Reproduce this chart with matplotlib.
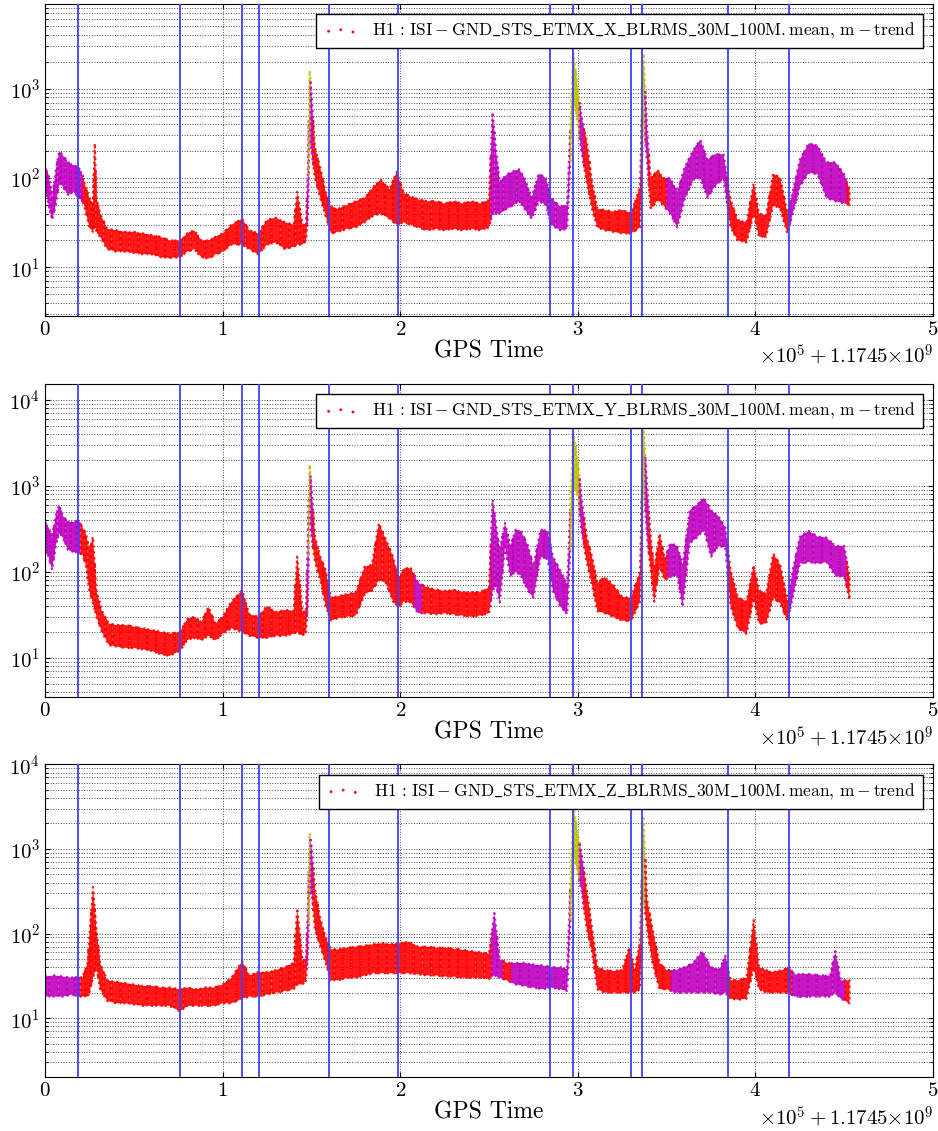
import numpy as np
import matplotlib.pyplot as plt

plt.rcParams["font.family"] = "serif"
plt.rcParams["font.serif"] = ["cmr10"]
plt.rcParams["mathtext.fontset"] = "cm"
plt.rcParams["axes.formatter.use_mathtext"] = True

# x in units of 1e5 s after GPS 1.1745e9; lo/hi = spread of the minute-trend dots
x_X = [0.00, 0.02, 0.04, 0.06, 0.08, 0.10, 0.13, 0.16, 0.19, 0.21,
       0.22, 0.25, 0.27, 0.28, 0.29, 0.31, 0.35, 0.40, 0.45, 0.50,
       0.55, 0.60, 0.65, 0.70, 0.76, 0.80, 0.84, 0.88, 0.92, 0.96,
       1.00, 1.05, 1.11, 1.15, 1.20, 1.25, 1.30, 1.35, 1.40, 1.42,
       1.45, 1.47, 1.48, 1.49, 1.50, 1.52, 1.55, 1.58, 1.61, 1.65,
       1.70, 1.75, 1.80, 1.85, 1.89, 1.94, 1.98, 2.02, 2.06, 2.10,
       2.15, 2.20, 2.25, 2.30, 2.35, 2.40, 2.45, 2.50, 2.52, 2.54,
       2.56, 2.60, 2.64, 2.67, 2.70, 2.74, 2.78, 2.82, 2.85, 2.90,
       2.94, 2.975, 3.00, 3.02, 3.05, 3.08, 3.11, 3.15, 3.20, 3.25,
       3.30, 3.35, 3.37, 3.39, 3.41, 3.45, 3.48, 3.52, 3.56, 3.60,
       3.65, 3.69, 3.73, 3.77, 3.82, 3.86, 3.90, 3.95, 3.99, 4.02,
       4.06, 4.10, 4.14, 4.18, 4.21, 4.25, 4.30, 4.35, 4.40, 4.45,
       4.50, 4.53]
lo_X = [80, 50, 34, 50, 90, 80, 65, 70, 60, 55,
        50, 28, 25, 30, 25, 22, 16, 15, 15, 14.5,
        14, 14, 13, 12.7, 13, 15, 16, 13, 12.5, 14,
        15, 18, 18, 16, 14, 18, 19, 16, 17, 18,
        18, 20, 40, 300, 200, 100, 60, 38, 24, 25,
        27, 28, 32, 38, 40, 35, 30, 32, 30, 28,
        26, 27, 26, 27, 26, 27, 26, 28, 40, 40,
        40, 45, 50, 55, 45, 35, 55, 50, 30, 26,
        27, 800, 400, 200, 90, 45, 28, 26, 25, 24,
        24, 28, 400, 150, 45, 57, 50, 40, 28, 57,
        96, 100, 60, 80, 100, 28, 20, 19, 40, 22,
        22, 50, 45, 24, 40, 80, 115, 110, 60, 55,
        52, 50]
hi_X = [130, 110, 60, 120, 200, 180, 150, 140, 130, 110,
        90, 60, 50, 245, 60, 40, 27, 26, 25, 25,
        24, 23, 22, 20, 20, 24, 26, 20, 20, 22,
        24, 30, 35, 26, 24, 34, 36, 32, 30, 70,
        30, 30, 120, 1600, 900, 220, 130, 70, 48, 45,
        50, 55, 60, 80, 96, 75, 117, 68, 62, 58,
        55, 55, 52, 55, 52, 55, 52, 57, 550, 200,
        90, 110, 120, 125, 100, 60, 112, 100, 60, 48,
        50, 2500, 1000, 500, 260, 90, 45, 44, 42, 44,
        40, 80, 2500, 350, 100, 123, 100, 100, 70, 130,
        205, 268, 160, 185, 185, 57, 34, 32, 87, 40,
        38, 112, 100, 40, 70, 160, 245, 230, 150, 150,
        110, 75]
st_X = ["m"] * 10 + ["r"] * 32 + ["m", "y", "m"] + ["r"] * 23 + ["m"] * 13 + \
       ["y", "y", "m"] + ["r"] * 8 + ["y", "m", "r", "r", "r"] + ["m"] * 8 + \
       ["r"] * 9 + ["m"] * 7 + ["r"]

x_Y = [0.00, 0.02, 0.04, 0.06, 0.08, 0.10, 0.13, 0.16, 0.19, 0.21,
       0.23, 0.25, 0.27, 0.29, 0.32, 0.36, 0.40, 0.45, 0.50, 0.55,
       0.60, 0.65, 0.70, 0.76, 0.80, 0.84, 0.88, 0.92, 0.96, 1.00,
       1.05, 1.11, 1.15, 1.20, 1.25, 1.30, 1.35, 1.40, 1.42, 1.45,
       1.47, 1.48, 1.49, 1.50, 1.52, 1.55, 1.58, 1.61, 1.65, 1.70,
       1.75, 1.80, 1.84, 1.88, 1.92, 1.96, 1.99, 2.02, 2.06, 2.10,
       2.15, 2.20, 2.25, 2.30, 2.35, 2.40, 2.45, 2.50, 2.52, 2.54,
       2.56, 2.59, 2.62, 2.65, 2.68, 2.72, 2.75, 2.79, 2.83, 2.86,
       2.90, 2.94, 2.975, 3.00, 3.02, 3.05, 3.08, 3.11, 3.15, 3.20,
       3.25, 3.30, 3.35, 3.37, 3.39, 3.41, 3.43, 3.46, 3.49, 3.52,
       3.56, 3.59, 3.63, 3.67, 3.71, 3.75, 3.79, 3.83, 3.86, 3.90,
       3.95, 3.99, 4.02, 4.06, 4.10, 4.14, 4.18, 4.21, 4.25, 4.30,
       4.35, 4.40, 4.45, 4.50, 4.53]
lo_Y = [183, 150, 105, 200, 290, 250, 180, 170, 165, 160,
        120, 60, 43, 30, 20, 14, 13.5, 13, 13, 12.5,
        12, 11, 10.5, 12, 16, 17, 16, 18, 16, 19,
        22, 20, 18, 17, 17, 18, 18, 19, 20, 18,
        20, 44, 500, 260, 130, 80, 40, 27, 29, 30,
        31, 55, 60, 80, 74, 45, 39, 45, 44, 33,
        33, 32, 33, 32, 31, 30, 31, 33, 60, 70,
        44, 195, 90, 100, 90, 60, 50, 150, 140, 60,
        40, 32, 1000, 740, 300, 130, 70, 35, 33, 30,
        27, 27, 45, 980, 260, 105, 45, 115, 80, 87,
        90, 39, 215, 250, 310, 150, 200, 195, 40, 22,
        19, 50, 25, 25, 50, 43, 27, 50, 125, 130,
        125, 130, 90, 87, 47]
hi_Y = [370, 330, 250, 450, 600, 450, 380, 380, 400, 330,
        280, 180, 257, 60, 35, 25, 24, 24, 23, 22,
        21, 20, 19, 20, 28, 30, 26, 39, 25, 30,
        45, 61, 32, 30, 40, 34, 36, 35, 150, 34,
        35, 260, 1780, 980, 257, 150, 105, 50, 52, 55,
        58, 115, 120, 370, 235, 150, 81, 110, 110, 75,
        66, 62, 60, 62, 58, 58, 58, 66, 690, 350,
        178, 370, 200, 310, 300, 200, 115, 310, 300, 150,
        105, 70, 4200, 2000, 740, 257, 150, 74, 87, 70,
        51, 50, 100, 4900, 980, 260, 105, 280, 140, 215,
        200, 120, 520, 600, 730, 520, 450, 330, 105, 51,
        45, 120, 61, 55, 163, 120, 45, 105, 257, 300,
        257, 250, 200, 200, 87]
st_Y = ["m"] * 9 + ["r"] * 32 + ["m", "y", "m"] + ["r"] * 15 + ["m"] + \
       ["r"] * 8 + ["m"] * 14 + ["y", "y", "m"] + ["r"] * 8 + \
       ["y", "m", "r", "r", "r", "r"] + ["m"] * 9 + ["r"] * 9 + ["m"] * 7 + ["r"]

x_Z = [0.00, 0.05, 0.10, 0.15, 0.19, 0.21, 0.24, 0.25, 0.27, 0.29,
       0.31, 0.35, 0.40, 0.45, 0.50, 0.55, 0.60, 0.65, 0.70, 0.76,
       0.80, 0.85, 0.90, 0.95, 1.00, 1.05, 1.11, 1.15, 1.20, 1.25,
       1.30, 1.35, 1.40, 1.42, 1.45, 1.47, 1.48, 1.49, 1.50, 1.52,
       1.55, 1.58, 1.61, 1.65, 1.70, 1.75, 1.80, 1.85, 1.90, 1.95,
       2.00, 2.05, 2.10, 2.15, 2.20, 2.25, 2.30, 2.35, 2.40, 2.45,
       2.50, 2.53, 2.56, 2.60, 2.65, 2.70, 2.75, 2.80, 2.85, 2.90,
       2.94, 2.975, 3.00, 3.02, 3.05, 3.08, 3.11, 3.15, 3.20, 3.25,
       3.29, 3.32, 3.35, 3.37, 3.39, 3.42, 3.46, 3.50, 3.55, 3.60,
       3.65, 3.70, 3.75, 3.80, 3.83, 3.86, 3.90, 3.95, 3.99, 4.02,
       4.06, 4.10, 4.15, 4.19, 4.22, 4.27, 4.32, 4.37, 4.42, 4.45,
       4.48, 4.53]
lo_Z = [18, 18, 18, 19, 18, 18, 18, 20, 30, 40,
        22, 16, 15, 15, 14.5, 14, 14, 14, 14, 12,
        14, 14, 14, 14, 15, 15, 17, 18, 18, 19,
        20, 21, 22, 25, 25, 28, 64, 270, 330, 110,
        70, 45, 28, 28, 30, 30, 32, 34, 34, 34,
        34, 34, 33, 32, 32, 31, 31, 30, 30, 30,
        29, 32, 30, 28, 25, 24, 23, 22, 23, 22,
        21, 900, 500, 330, 115, 60, 22, 20, 20, 20,
        20, 20, 22, 250, 115, 45, 22, 22, 20, 20,
        20, 20, 20, 19, 20, 17, 16.5, 17, 40, 22,
        20, 20, 20, 20, 18, 18, 18, 18, 18, 20,
        17, 15]
hi_Z = [31, 32, 31, 30, 31, 30, 45, 92, 355, 110,
        45, 28, 27, 26, 25, 24, 24, 23, 23, 22,
        23, 22, 23, 23, 25, 30, 47, 32, 35, 35,
        37, 40, 45, 200, 48, 50, 200, 1550, 1100, 330,
        150, 90, 65, 65, 68, 70, 72, 75, 77, 75,
        77, 80, 70, 70, 68, 68, 66, 64, 62, 60,
        58, 175, 50, 45, 45, 45, 43, 42, 40, 40,
        38, 3150, 1500, 900, 330, 115, 40, 37, 36, 37,
        69, 37, 80, 2300, 250, 115, 45, 37, 37, 40,
        45, 62, 40, 38, 55, 28, 28, 30, 145, 40,
        37, 35, 37, 40, 33, 33, 33, 32, 32, 62,
        28, 28]
st_Z = ["m"] * 5 + ["r"] * 31 + ["m", "y", "m"] + ["r"] * 21 + ["r", "m", "m", "r"] + \
       ["m"] * 7 + ["y", "y", "m"] + ["r"] * 9 + ["y", "r", "r", "r", "r"] + \
       ["m"] * 7 + ["r"] * 9 + ["m"] * 7 + ["r"]

lock_lines = [0.184, 0.760, 1.111, 1.207, 1.599, 1.989, 2.843, 2.975,
              3.298, 3.363, 3.844, 4.191]
channels = ["X", "Y", "Z"]
ylims = [(2.85, 8900), (3.46, 15400), (2.0, 1.0e4)]

colors = {"r": (1.0, 0.0, 0.0), "m": (0.75, 0.0, 0.75), "y": (0.75, 0.75, 0.0)}
panels = [(x_X, lo_X, hi_X, st_X), (x_Y, lo_Y, hi_Y, st_Y), (x_Z, lo_Z, hi_Z, st_Z)]
for p in panels:
    assert len(p[0]) == len(p[1]) == len(p[2]) == len(p[3]), [len(a) for a in p]

fig = plt.figure(figsize=(9.38, 11.31), dpi=100)
boxes = [[0.048, 0.7206, 0.9467, 0.2759],
         [0.048, 0.3835, 0.9467, 0.2770],
         [0.048, 0.0475, 0.9467, 0.2767]]


def draw_band(ax, x, lo, hi, st):
    x = np.asarray(x, float)
    llo = np.log10(lo)
    lhi = np.log10(hi)
    n = len(x)
    for i in range(n):
        xs, ls, hs = [x[i]], [llo[i]], [lhi[i]]
        if i > 0:
            xs.insert(0, 0.5 * (x[i - 1] + x[i]))
            ls.insert(0, 0.5 * (llo[i - 1] + llo[i]))
            hs.insert(0, 0.5 * (lhi[i - 1] + lhi[i]))
        if i < n - 1:
            xs.append(0.5 * (x[i] + x[i + 1]))
            ls.append(0.5 * (llo[i] + llo[i + 1]))
            hs.append(0.5 * (lhi[i] + lhi[i + 1]))
        c = colors[st[i]]
        ax.fill_between(xs, 10 ** np.array(ls), 10 ** np.array(hs),
                        facecolor=c, edgecolor=c, alpha=0.9, lw=1.6, ls=":", zorder=2.2)


for k, (box, ch, ylim, (x, lo, hi, st)) in enumerate(zip(boxes, channels, ylims, panels)):
    ax = fig.add_axes(box)
    ax.set_yscale("log")
    draw_band(ax, x, lo, hi, st)
    ax.scatter([], [], c="r", s=4, marker=".",
               label=r"$\mathrm{H1\,:\,ISI-GND\_STS\_ETMX\_%s\_BLRMS\_30M\_100M.mean,\,m-trend}$" % ch)
    for xl in lock_lines:
        ax.axvline(xl, color=(0.25, 0.25, 1.0), lw=1.3, zorder=3)
    ax.set_xlim(0, 5)
    ax.set_ylim(*ylim)
    ax.set_xticks([0, 1, 2, 3, 4, 5])
    ax.grid(True, which="major", ls=":", color="0.3", lw=0.7)
    ax.grid(True, which="minor", axis="y", ls=":", color="0.3", lw=0.7)
    ax.tick_params(which="both", direction="in", top=True, right=True, labelsize=15)
    ax.set_xlabel("GPS Time", fontsize=17, labelpad=1)
    ax.text(1.0, -0.125, r"$\times10^{5}+1.1745{\times}10^{9}$", transform=ax.transAxes,
            ha="right", va="center", fontsize=15)
    ax.legend(loc="upper right", fancybox=False, edgecolor="k", framealpha=1,
              scatterpoints=3, fontsize=12.5, borderaxespad=0.6)

fig.savefig("out.png", dpi=100)
